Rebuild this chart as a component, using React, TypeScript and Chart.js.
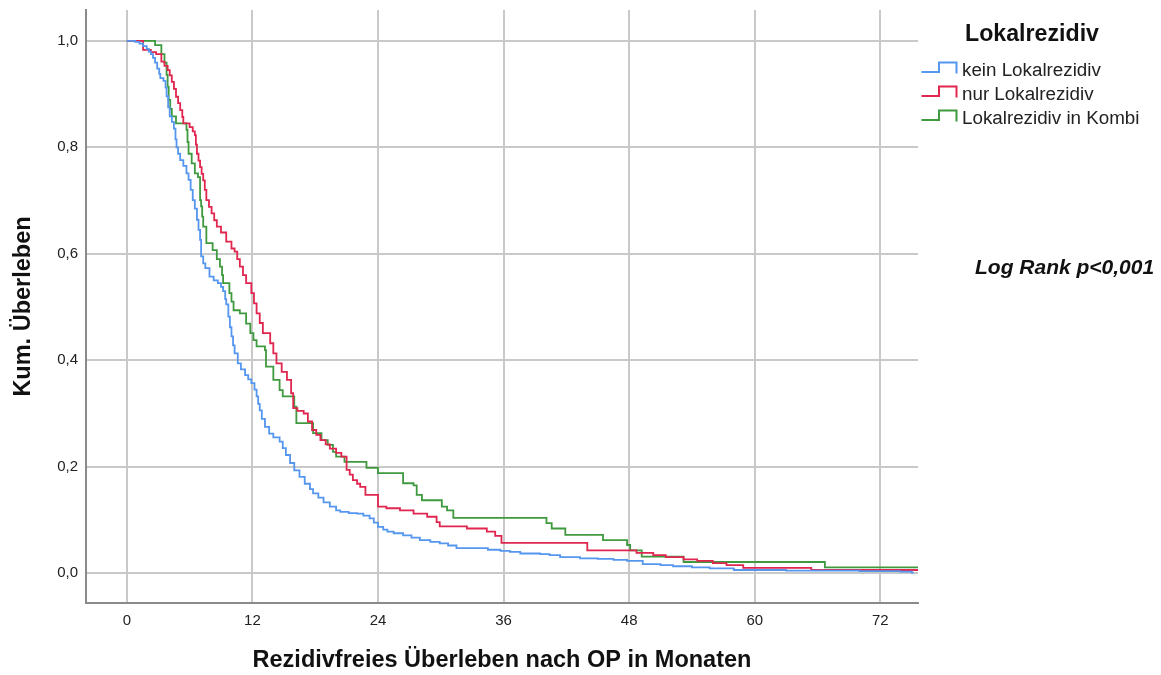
import React, { useEffect, useRef } from "react";
import { Chart, registerables } from "chart.js";

Chart.register(...registerables);

// ---- Data ----
const xTicks = [0, 12, 24, 36, 48, 60, 72];
const yTicks = [0, 0.2, 0.4, 0.6, 0.8, 1.0];

const keinT = [0, 0.8, 1.2, 1.56, 1.9, 2.1, 2.3, 2.5, 2.7, 2.9, 3.1, 3.2, 3.5, 3.7, 3.8, 3.95, 4.1, 4.3, 4.5, 4.65, 4.75, 4.9, 5.1, 5.4, 5.7, 5.9, 6.1, 6.3, 6.5, 6.7, 6.85, 7.0, 7.1, 7.3, 7.5, 7.9, 8.3, 8.7, 9.0, 9.2, 9.4, 9.5, 9.7, 9.85, 10.0, 10.15, 10.3, 10.6, 10.9, 11.3, 11.6, 11.9, 12.2, 12.4, 12.55, 12.7, 12.9, 13.2, 13.6, 14.0, 14.6, 14.9, 15.2, 15.6, 16.0, 16.5, 17.0, 17.5, 17.8, 18.3, 18.8, 19.4, 20.0, 20.4, 21.2, 22.0, 22.6, 23.2, 23.6, 24.0, 24.5, 24.9, 25.5, 26.4, 27.2, 28.0, 29.0, 29.9, 30.7, 31.5, 34.5, 35.7, 36.6, 37.6, 39.5, 40.4, 41.4, 43.3, 45.0, 46.5, 47.8, 49.3, 51.0, 52.2, 54.0, 55.7, 58.0, 63.0, 70.0, 73.9, 75.0, 75.2];
const keinS = [1.0, 0.998, 0.995, 0.99, 0.985, 0.98, 0.975, 0.968, 0.959, 0.948, 0.938, 0.93, 0.925, 0.912, 0.896, 0.875, 0.858, 0.848, 0.835, 0.815, 0.8, 0.788, 0.776, 0.765, 0.751, 0.739, 0.72, 0.701, 0.685, 0.664, 0.645, 0.626, 0.595, 0.582, 0.573, 0.557, 0.55, 0.545, 0.538, 0.53, 0.515, 0.505, 0.482, 0.462, 0.445, 0.428, 0.413, 0.394, 0.383, 0.372, 0.364, 0.357, 0.345, 0.332, 0.318, 0.306, 0.29, 0.275, 0.262, 0.255, 0.247, 0.235, 0.222, 0.207, 0.193, 0.181, 0.168, 0.158, 0.15, 0.142, 0.133, 0.125, 0.118, 0.115, 0.113, 0.112, 0.108, 0.103, 0.095, 0.087, 0.082, 0.078, 0.075, 0.071, 0.067, 0.062, 0.059, 0.056, 0.052, 0.047, 0.044, 0.042, 0.04, 0.037, 0.036, 0.034, 0.03, 0.028, 0.027, 0.025, 0.023, 0.017, 0.015, 0.013, 0.011, 0.009, 0.006, 0.005, 0.004, 0.003, 0.001, 0.001];

const nurT = [0, 1.56, 2.3, 2.8, 3.3, 3.6, 3.9, 4.1, 4.3, 4.5, 4.7, 4.9, 5.1, 5.3, 5.4, 6.0, 6.3, 6.5, 6.6, 6.7, 6.85, 7.0, 7.15, 7.3, 7.45, 7.6, 7.85, 8.1, 8.35, 8.6, 9.0, 9.5, 10.0, 10.3, 10.55, 10.8, 11.1, 11.4, 11.9, 12.15, 12.4, 12.7, 13.0, 13.7, 14.0, 14.3, 14.8, 15.3, 15.7, 15.9, 16.3, 16.9, 17.3, 17.7, 18.1, 18.5, 19.0, 19.4, 20.0, 20.5, 21.0, 21.3, 21.6, 22.0, 22.3, 22.8, 24.0, 24.8, 26.1, 27.4, 28.7, 29.6, 29.9, 32.5, 34.4, 35.2, 35.8, 44.0, 48.7, 50.3, 51.5, 53.2, 54.5, 56.0, 57.3, 58.9, 65.4, 75.6];
const nurS = [1.0, 0.983, 0.979, 0.975, 0.961, 0.953, 0.945, 0.935, 0.923, 0.91, 0.895, 0.883, 0.87, 0.857, 0.845, 0.838, 0.83, 0.823, 0.805, 0.788, 0.775, 0.763, 0.75, 0.738, 0.72, 0.701, 0.688, 0.676, 0.663, 0.651, 0.64, 0.623, 0.61, 0.604, 0.59, 0.576, 0.56, 0.545, 0.526, 0.507, 0.488, 0.47, 0.451, 0.432, 0.413, 0.394, 0.378, 0.363, 0.338, 0.31, 0.305, 0.3, 0.285, 0.269, 0.26, 0.25, 0.242, 0.234, 0.226, 0.219, 0.194, 0.185, 0.175, 0.168, 0.162, 0.147, 0.125, 0.122, 0.118, 0.112, 0.106, 0.096, 0.088, 0.084, 0.078, 0.07, 0.057, 0.043, 0.038, 0.034, 0.03, 0.026, 0.023, 0.019, 0.015, 0.01, 0.006, 0.004];

const kombiT = [0, 2.7, 3.3, 3.6, 3.8, 3.9, 4.0, 4.15, 4.3, 4.7, 5.7, 5.8, 5.9, 6.2, 6.5, 6.8, 7.0, 7.1, 7.2, 7.3, 7.6, 8.2, 8.6, 8.9, 9.1, 9.2, 9.8, 10.0, 10.2, 10.8, 11.4, 11.8, 12.1, 12.4, 13.2, 13.3, 14.0, 14.6, 14.9, 16.0, 16.2, 17.8, 18.6, 19.2, 19.7, 20.0, 20.8, 22.9, 24.0, 26.4, 27.4, 27.7, 28.2, 30.1, 30.6, 31.2, 40.1, 40.6, 41.9, 45.5, 47.8, 48.1, 49.2, 53.2, 66.7, 75.6];
const kombiS = [1.0, 0.992, 0.975, 0.959, 0.936, 0.914, 0.889, 0.872, 0.858, 0.845, 0.833, 0.81, 0.788, 0.77, 0.751, 0.744, 0.701, 0.689, 0.67, 0.651, 0.62, 0.607, 0.59, 0.576, 0.56, 0.545, 0.526, 0.51, 0.494, 0.488, 0.469, 0.451, 0.438, 0.426, 0.419, 0.388, 0.363, 0.344, 0.332, 0.313, 0.282, 0.263, 0.25, 0.241, 0.228, 0.219, 0.209, 0.198, 0.188, 0.169, 0.165, 0.147, 0.137, 0.125, 0.118, 0.104, 0.094, 0.084, 0.072, 0.062, 0.053, 0.043, 0.031, 0.021, 0.011, 0.011];

const seriesLabels = ["kein Lokalrezidiv", "nur Lokalrezidiv", "Lokalrezidiv in Kombi"];
const seriesColors = ["#5596ee", "#e0264f", "#3f9a3f"];

const legendTitle = "Lokalrezidiv";
const xTitle = "Rezidivfreies Überleben nach OP in Monaten";
const yTitle = "Kum. Überleben";
const note = "Log Rank p<0,001";

const toPoints = (t: number[], s: number[]) => t.map((x, i) => ({ x, y: s[i] }));

const FONT = "'Liberation Sans', Arial, sans-serif";

export default function App() {
  const ref = useRef<HTMLCanvasElement | null>(null);

  useEffect(() => {
    document.body.style.margin = "0";
    const ctx = ref.current!.getContext("2d")!;
    const all = [
      toPoints(keinT, keinS),
      toPoints(nurT, nurS),
      toPoints(kombiT, kombiS),
    ];
    const chart = new Chart(ctx, {
      type: "line",
      data: {
        datasets: all.map((pts, i) => ({
          label: seriesLabels[i],
          data: pts,
          borderColor: seriesColors[i],
          borderWidth: 1.8,
          pointRadius: 0,
          stepped: "before" as const,
          fill: false,
        })),
      },
      options: {
        animation: false,
        responsive: true,
        maintainAspectRatio: false,
        layout: { padding: { left: 0, right: 243, top: 10, bottom: 0 } },
        plugins: { legend: { display: false }, tooltip: { enabled: false } },
        scales: {
          x: {
            type: "linear",
            min: -3.9,
            max: 75.6,
            afterBuildTicks: (s: any) => {
              s.ticks = xTicks.map((v) => ({ value: v }));
            },
            afterFit: (s: any) => {
              s.height = 72;
              s.paddingLeft = 0;
              s.paddingRight = 0;
            },
            grid: { color: "#c9c9c9", lineWidth: 2, drawTicks: false },
            border: { color: "#8a8a8a", width: 2 },
            ticks: {
              color: "#222",
              font: { family: FONT, size: 15 },
              padding: 9,
              maxRotation: 0,
              callback: (v: any) => String(v),
            },
            title: {
              display: true,
              text: xTitle,
              color: "#111",
              font: { family: FONT, size: 23.5, weight: "bold" },
              padding: { top: 0, bottom: 0 },
            },
          },
          y: {
            type: "linear",
            min: -0.056,
            max: 1.058,
            afterBuildTicks: (s: any) => {
              s.ticks = yTicks.map((v) => ({ value: v }));
            },
            afterFit: (s: any) => {
              s.width = 86;
              s.paddingTop = 0;
              s.paddingBottom = 0;
            },
            grid: { color: "#c9c9c9", lineWidth: 2, drawTicks: false },
            border: { color: "#8a8a8a", width: 2 },
            ticks: {
              color: "#222",
              font: { family: FONT, size: 15 },
              padding: 8,
              callback: (v: any) => Number(v).toFixed(1).replace(".", ","),
            },
            title: {
              display: true,
              text: yTitle,
              color: "#111",
              font: { family: FONT, size: 23.5, weight: "bold" },
              padding: { top: 9, bottom: 0 },
            },
          },
        },
      },
    });
    return () => chart.destroy();
  }, []);

  const itemCenters = [70, 94, 118];

  return (
    <div style={{ position: "absolute", left: 0, top: 0, width: 1161, height: 675, background: "#fff", fontFamily: FONT }}>
      <canvas ref={ref} />
      <div
        style={{
          position: "absolute",
          left: 965,
          top: 20,
          fontSize: 23.2,
          lineHeight: "26px",
          fontWeight: "bold",
          color: "#111",
          whiteSpace: "nowrap",
        }}
      >
        {legendTitle}
      </div>
      {seriesLabels.map((lab, i) => (
        <React.Fragment key={lab}>
          <svg
            width={40}
            height={16}
            style={{ position: "absolute", left: 920, top: itemCenters[i] - 9 }}
          >
            <polyline
              points="1.5,11 19,11 19,1.5 36.5,1.5 36.5,12.5"
              fill="none"
              stroke={seriesColors[i]}
              strokeWidth={2}
            />
          </svg>
          <div
            style={{
              position: "absolute",
              left: 962,
              top: itemCenters[i] - 12,
              fontSize: 18.8,
              lineHeight: "24px",
              color: "#222",
              whiteSpace: "nowrap",
            }}
          >
            {lab}
          </div>
        </React.Fragment>
      ))}
      <div
        style={{
          position: "absolute",
          left: 975,
          top: 267 - 13,
          fontSize: 21,
          lineHeight: "26px",
          fontWeight: "bold",
          fontStyle: "italic",
          color: "#111",
          whiteSpace: "nowrap",
        }}
      >
        {note}
      </div>
    </div>
  );
}
